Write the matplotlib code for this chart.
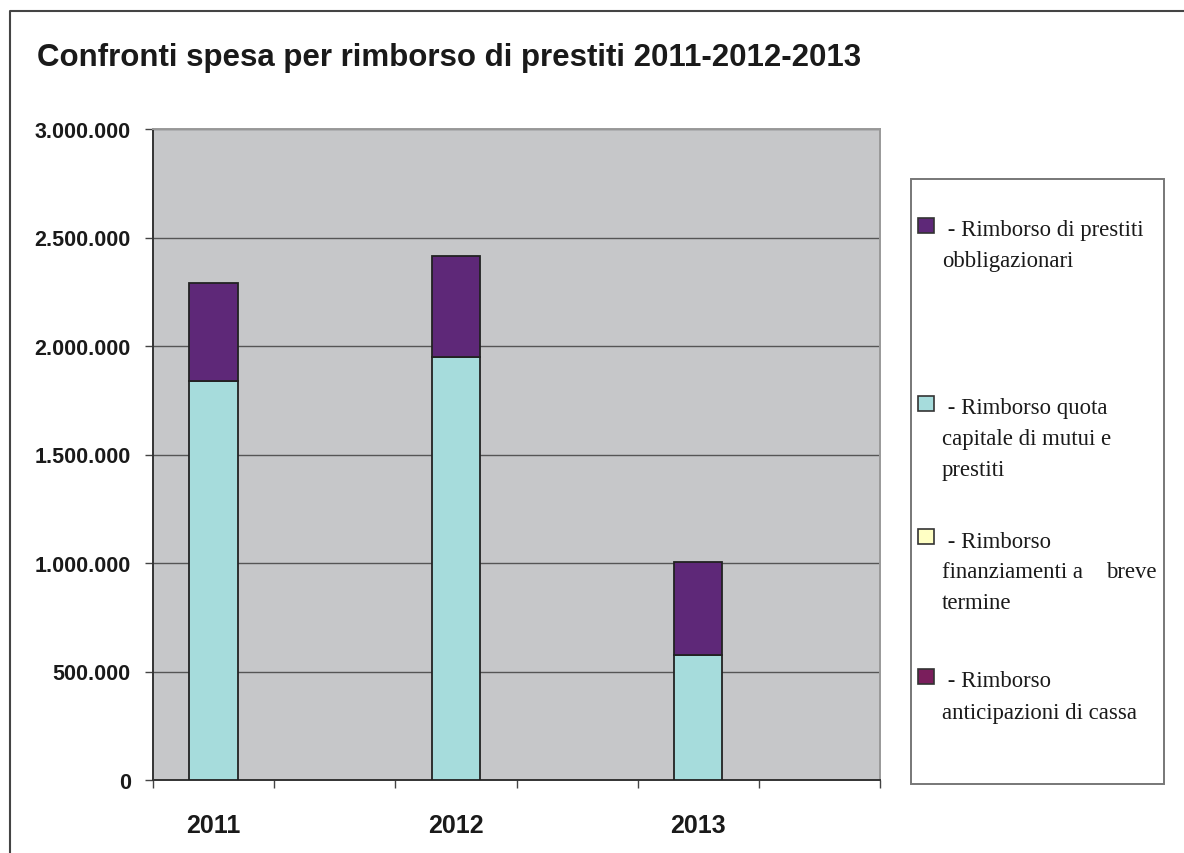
import numpy as np
import matplotlib
matplotlib.use("Agg")
import matplotlib.pyplot as plt
from matplotlib.patches import Rectangle
from matplotlib.lines import Line2D
from matplotlib.ticker import FuncFormatter, FixedLocator

# dati: spesa per rimborso di prestiti (euro)
anni = ["2011", "2012", "2013"]
quota_capitale = [1841000, 1951000, 577000]
obbligazionari = [451000, 465000, 429000]
finanziamenti_breve = [0, 0, 0]
anticipazioni_cassa = [0, 0, 0]

voci = [
    [" - Rimborso di prestiti", "obbligazionari"],
    [" - Rimborso quota", "capitale di mutui e", "prestiti"],
    [" - Rimborso", "finanziamenti a", "termine"],
    [" - Rimborso", "anticipazioni di cassa"],
]
colori = ["#5E2878", "#A6DCDC", "#FFFFC4", "#7A1E5C"]

W, H = 1184, 854
fig = plt.figure(figsize=(W / 100, H / 100), dpi=100)
fig.patch.set_facecolor("white")

ax = fig.add_axes([153 / W, (H - 781) / H, (880 - 153) / W, (781 - 130) / H])
ax.set_facecolor("#C6C7C9")

# ogni anno occupa uno slot su due
pos = np.arange(len(anni)) * 2
larg = 0.40
serie = [quota_capitale, obbligazionari, finanziamenti_breve, anticipazioni_cassa]
col_serie = [colori[1], colori[0], colori[2], colori[3]]
base = np.zeros(len(anni))
for vals, c in zip(serie, col_serie):
    v = np.array(vals, dtype=float)
    if v.sum() > 0:
        ax.bar(pos, v, larg, bottom=base, color=c, edgecolor="#222222",
               linewidth=1.3, zorder=3)
    base += v

ax.set_xlim(-0.5, 2 * len(anni) - 0.5)
ax.set_ylim(0, 3000000)
ax.set_yticks(np.arange(0, 3000001, 500000))
ax.yaxis.set_major_formatter(FuncFormatter(lambda v, p: f"{int(v):,}".replace(",", ".")))
ax.yaxis.grid(True, color="#555555", linewidth=1.0, zorder=1)
ax.set_axisbelow(True)

ax.xaxis.set_major_locator(FixedLocator(np.arange(-0.5, 2 * len(anni), 1.0)))
ax.xaxis.set_major_formatter(FuncFormatter(lambda v, p: ""))
ax.set_xticks(pos, minor=True)
ax.set_xticklabels(anni, minor=True)

ax.tick_params(axis="x", which="major", direction="out", length=6, width=1, color="#444444")
ax.tick_params(axis="x", which="minor", length=0, pad=24)
ax.tick_params(axis="y", direction="out", length=6, width=1, color="#444444", pad=10)
for lab in ax.get_yticklabels():
    lab.set_fontfamily("Liberation Sans")
    lab.set_fontweight("bold")
    lab.set_fontsize(15.5)
    lab.set_color("#1a1a1a")
for lab in ax.get_xticklabels(minor=True):
    lab.set_fontfamily("Liberation Sans")
    lab.set_fontweight("bold")
    lab.set_fontsize(18)
    lab.set_color("#1a1a1a")

ax.spines["left"].set_color("#333333")
ax.spines["bottom"].set_color("#333333")
ax.spines["top"].set_color("#999999")
ax.spines["right"].set_color("#999999")
for s in ax.spines.values():
    s.set_linewidth(1.4)

fig.text(37 / W, 1 - 58 / H, "Confronti spesa per rimborso di prestiti 2011-2012-2013",
         fontfamily="Liberation Sans", fontweight="bold", fontsize=22.5,
         va="center", ha="left", color="#1a1a1a")

# cornice esterna
fig.add_artist(Line2D([10 / W, 10 / W, 1.0], [0.0, 1 - 12 / H, 1 - 12 / H],
                      transform=fig.transFigure, color="#444444", linewidth=1.5))

# legenda
fig.add_artist(Rectangle((911 / W, 1 - 785 / H), (1164 - 911) / W, (785 - 180) / H,
                         transform=fig.transFigure, facecolor="white",
                         edgecolor="#777777", linewidth=1.4))
prima_riga = [231, 409, 542, 682]
for righe, c, y0 in zip(voci, colori, prima_riga):
    fig.add_artist(Rectangle((918 / W, 1 - (y0 + 3) / H), 16 / W, 15 / H,
                             transform=fig.transFigure, facecolor=c,
                             edgecolor="#333333", linewidth=1.2))
    for k, riga in enumerate(righe):
        fig.text(942 / W, 1 - (y0 + 31 * k) / H, riga, fontfamily="Liberation Serif",
                 fontsize=16.4, va="center", ha="left", color="#1a1a1a")
fig.text(1157 / W, 1 - (542 + 31) / H, "breve", fontfamily="Liberation Serif",
         fontsize=16.4, va="center", ha="right", color="#1a1a1a")

fig.savefig("out.png", dpi=100)
